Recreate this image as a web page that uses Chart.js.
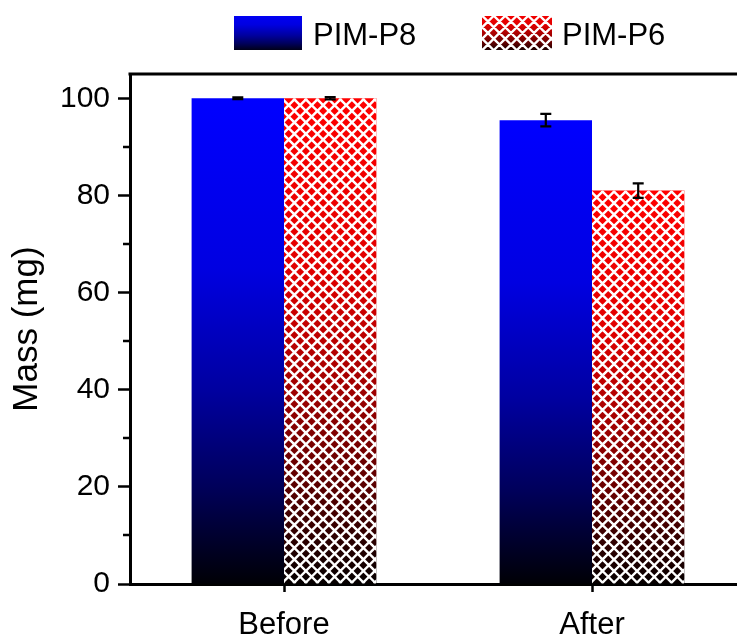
<!DOCTYPE html>
<html>
<head>
<meta charset="utf-8">
<script src="https://cdn.jsdelivr.net/npm/chart.js@4.4.1/dist/chart.umd.min.js"></script>
<style>
  html, body { margin: 0; padding: 0; background: #fff; overflow: hidden; }
  #wrap { width: 760px; height: 638px; }
</style>
</head>
<body>
<div id="wrap"><canvas id="chart" width="760" height="638"></canvas></div>
<script>
var categories = ["Before", "After"];
var seriesNames = ["PIM-P8", "PIM-P6"];
var massP8 = [100, 95.5];
var massP6 = [100, 81];
var errP8 = [0.2, 1.3];
var errP6 = [0.25, 1.5];
var yTicks = [0, 20, 40, 60, 80, 100];
var yMinorTicks = [10, 30, 50, 70, 90];

var FONT = '"Liberation Sans", Arial, sans-serif';

// vertical fade: bright at the top of the bar, almost black at its base
function fadeFill(ctx, top, bottom, hue) {
  var g = ctx.createLinearGradient(0, top, 0, bottom);
  [[0, 255], [0.35, 225], [0.6, 160], [0.8, 90], [1, 5]].forEach(function (s) {
    g.addColorStop(s[0], hue === 'b' ? 'rgb(0,0,' + s[1] + ')' : 'rgb(' + s[1] + ',0,0)');
  });
  return g;
}

function barFill(hue) {
  return function (c) {
    var chart = c.chart, ys = chart.scales.y;
    if (!ys || !chart.chartArea || !c.parsed) return hue === 'b' ? '#0000ff' : '#ff0000';
    return fadeFill(chart.ctx, ys.getPixelForValue(c.parsed.y), ys.getPixelForValue(0), hue);
  };
}

// white diagonal cross-hatch inside a rectangle
function drawHatch(ctx, x, y, w, h) {
  var step = 11.5;
  ctx.save();
  ctx.beginPath();
  ctx.rect(x, y, w, h);
  ctx.clip();
  ctx.strokeStyle = '#ffffff';
  ctx.lineWidth = 2.4;
  ctx.beginPath();
  for (var k = -h; k < w + h; k += step) {
    ctx.moveTo(x + k, y);
    ctx.lineTo(x + k + h, y + h);
    ctx.moveTo(x + k, y + h);
    ctx.lineTo(x + k + h, y);
  }
  ctx.stroke();
  ctx.restore();
}

var errors = [errP8, errP6];

var barExtras = {
  id: 'barExtras',
  afterDatasetsDraw: function (chart) {
    var ctx = chart.ctx, ys = chart.scales.y;
    chart.getDatasetMeta(1).data.forEach(function (bar) {
      var top = Math.min(bar.y, bar.base), bottom = Math.max(bar.y, bar.base);
      drawHatch(ctx, bar.x - bar.width / 2, top, bar.width, bottom - top);
    });
    // error bars
    ctx.save();
    ctx.strokeStyle = '#000';
    ctx.lineWidth = 2.2;
    chart.data.datasets.forEach(function (ds, i) {
      chart.getDatasetMeta(i).data.forEach(function (bar, j) {
        var v = ds.data[j], e = errors[i][j];
        var hi = ys.getPixelForValue(v + e), lo = ys.getPixelForValue(v - e);
        ctx.beginPath();
        ctx.moveTo(bar.x, hi); ctx.lineTo(bar.x, lo);
        ctx.moveTo(bar.x - 5.5, hi); ctx.lineTo(bar.x + 5.5, hi);
        ctx.moveTo(bar.x - 5.5, lo); ctx.lineTo(bar.x + 5.5, lo);
        ctx.stroke();
      });
    });
    ctx.restore();
  }
};

var frame = {
  id: 'frame',
  afterDraw: function (chart) {
    var ctx = chart.ctx, a = chart.chartArea, ys = chart.scales.y;
    ctx.save();
    ctx.strokeStyle = '#000';
    ctx.lineWidth = 3;
    ctx.beginPath();
    ctx.moveTo(a.left - 1.5, a.top);
    ctx.lineTo(a.right, a.top);
    ctx.lineTo(a.right, a.bottom);
    ctx.stroke();
    // minor ticks on the y axis
    ctx.lineWidth = 2.5;
    ctx.beginPath();
    yMinorTicks.forEach(function (v) {
      var py = Math.round(ys.getPixelForValue(v));
      ctx.moveTo(a.left, py);
      ctx.lineTo(a.left - 7, py);
    });
    ctx.stroke();

    // legend
    var items = [
      { box: [234, 16, 68, 34], textX: 313, hue: 'b', hatch: false },
      { box: [482, 16, 70, 34], textX: 562, hue: 'r', hatch: true }
    ];
    ctx.font = '31px ' + FONT;
    ctx.textBaseline = 'alphabetic';
    ctx.textAlign = 'left';
    items.forEach(function (it, i) {
      var b = it.box;
      ctx.fillStyle = fadeFill(ctx, b[1] - 6, b[1] + b[3] + 2, it.hue);
      ctx.fillRect(b[0], b[1], b[2], b[3]);
      if (it.hatch) drawHatch(ctx, b[0], b[1], b[2], b[3]);
      ctx.fillStyle = '#000';
      ctx.fillText(seriesNames[i], it.textX, 45);
    });
    ctx.restore();
  }
};

new Chart(document.getElementById('chart'), {
  type: 'bar',
  data: {
    labels: categories,
    datasets: [
      { label: seriesNames[0], data: massP8, backgroundColor: barFill('b'), borderWidth: 0 },
      { label: seriesNames[1], data: massP6, backgroundColor: barFill('r'), borderWidth: 0 }
    ]
  },
  options: {
    responsive: false,
    animation: false,
    devicePixelRatio: 1,
    events: [],
    layout: { padding: { top: 74, right: 14, left: 0, bottom: 0 } },
    datasets: { bar: { categoryPercentage: 0.6, barPercentage: 1.0 } },
    plugins: { legend: { display: false }, tooltip: { enabled: false } },
    scales: {
      x: {
        grid: { offset: false, drawOnChartArea: false, tickLength: 8, tickWidth: 2.5, tickColor: '#000' },
        border: { color: '#000', width: 3 },
        ticks: { color: '#000', padding: 15, font: { family: FONT, size: 31 } },
        afterFit: function (s) { s.height = 54; }
      },
      y: {
        min: 0,
        max: 105,
        afterBuildTicks: function (s) { s.ticks = yTicks.map(function (v) { return { value: v }; }); },
        grid: { drawOnChartArea: false, tickLength: 12, tickWidth: 2.5, tickColor: '#000' },
        border: { color: '#000', width: 3 },
        ticks: { color: '#000', padding: 8, font: { family: FONT, size: 30 } },
        title: { display: true, text: 'Mass (mg)', color: '#000', padding: { top: 6, bottom: 0 }, font: { family: FONT, size: 35 } },
        afterFit: function (s) { s.width = 130; }
      }
    }
  },
  plugins: [barExtras, frame]
});
</script>
</body>
</html>
